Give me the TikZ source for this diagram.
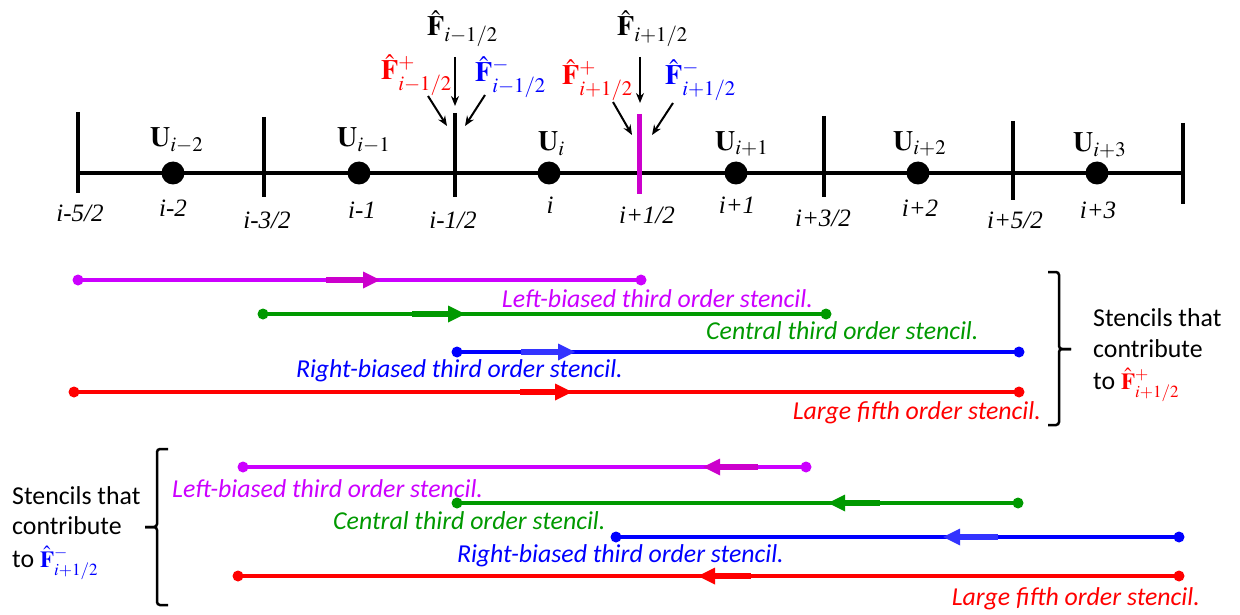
\documentclass[tikz,border=0pt]{standalone}
\usepackage{mathptmx}
\usepackage[no-math]{fontspec}
\setmainfont{Liberation Serif}
\newfontfamily\calibrifont{Carlito}
\usetikzlibrary{arrows.meta}
\definecolor{magline}{RGB}{204,0,255}
\definecolor{magdark}{RGB}{204,0,204}
\definecolor{grn}{RGB}{0,153,0}
\definecolor{blu}{RGB}{0,0,255}
\definecolor{bluarrow}{RGB}{51,51,255}
\definecolor{rd}{RGB}{255,0,0}
\tikzset{
  axisline/.style={line width=4pt, line cap=butt},
  tick/.style={line width=4pt},
  celldot/.style={fill=black},
  ulabel/.style={anchor=base west, inner sep=0pt, font=\fontsize{28}{31}\selectfont},
  flabel/.style={anchor=base west, inner sep=0pt, font=\fontsize{28}{31}\selectfont},
  ilabel/.style={anchor=base, inner sep=0pt, font=\fontsize{25}{28}\selectfont\itshape},
  farrow/.style={line width=2pt, -{Stealth[length=10pt,width=8pt]}},
  stline/.style={line width=3.5pt},
  sttext/.style={inner sep=0pt, font=\fontsize{25.8}{28}\selectfont\calibrifont\itshape},
  bracetext/.style={inner sep=0pt, anchor=base west, font=\fontsize{25.8}{28}\selectfont\calibrifont},
  bracestyle/.style={line width=2.5pt, rounded corners=3pt},
}
\newcommand\arrR[4]{% colour, y, stub start, head base
  \draw[line width=6pt,#1] (#3,#2) -- (#4,#2);
  \fill[#1] (#4,#2-8.5) -- (#4+17,#2) -- (#4,#2+8.5) -- cycle;}
\newcommand\arrL[4]{% colour, y, stub end, head base
  \draw[line width=6pt,#1] (#3,#2) -- (#4,#2);
  \fill[#1] (#4,#2-8.5) -- (#4-17,#2) -- (#4,#2+8.5) -- cycle;}
\begin{document}
\begin{tikzpicture}[x=1pt,y=-1pt]
\useasboundingbox (0,0) rectangle (1240,615);
% ---------------- axis ----------------
\coordinate (t0) at (78,173);
\coordinate (t6) at (1183,173);
\draw[axisline] (t0) -- (t6);
\draw[tick] (78,112) -- (78,193);
\draw[tick] (264,117) -- (264,197);
\draw[tick] (455,113) -- (455,197);
\draw[line width=5pt, magdark] (639,114) -- (639,194);
\draw[tick] (824,116) -- (824,197);
\draw[tick] (1013,121) -- (1013,200);
\draw[tick] (1183,123) -- (1183,204);
\foreach \x in {173,359,549,736,918,1097}
  \fill[celldot] (\x,173) circle (11.5);
% U labels
\node[ulabel] (u1) at (150,147) {$\mathbf{U}_{i-2}$};
\node[ulabel] (u2) at (337,147) {$\mathbf{U}_{i-1}$};
\node[ulabel] (u3) at (538,151) {$\mathbf{U}_{i}$};
\node[ulabel] (u4) at (715,150) {$\mathbf{U}_{i+1}$};
\node[ulabel] (u5) at (893,150) {$\mathbf{U}_{i+2}$};
\node[ulabel] (u6) at (1073,152) {$\mathbf{U}_{i+3}$};
% index labels
\node[ilabel] (l1) at (80,221.5) {i-5/2};
\node[ilabel] (l2) at (173,216.5) {i-2};
\node[ilabel] (l3) at (267,228.5) {i-3/2};
\node[ilabel] (l4) at (362,218.5) {i-1};
\node[ilabel] (l5) at (453,228.5) {i-1/2};
\node[ilabel] (l6) at (550,213.5) {i};
\node[ilabel] (l7) at (647,223.5) {i+1/2};
\node[ilabel] (l8) at (737,213.5) {i+1};
\node[ilabel] (l9) at (823,226.5) {i+3/2};
\node[ilabel] (l10) at (920,216.5) {i+2};
\node[ilabel] (l11) at (1015,228.5) {i+5/2};
\node[ilabel] (l12) at (1098,218.5) {i+3};
% flux labels
\node[flabel] (fa) at (427,36) {$\hat{\mathbf{F}}_{i-1/2}$};
\node[flabel, text=rd] (fap) at (381,80) {$\hat{\mathbf{F}}^{+}_{i-1/2}$};
\node[flabel, text=blu] (fam) at (475,82) {$\hat{\mathbf{F}}^{-}_{i-1/2}$};
\node[flabel] (fb) at (617,36) {$\hat{\mathbf{F}}_{i+1/2}$};
\node[flabel, text=rd] (fbp) at (562,85) {$\hat{\mathbf{F}}^{+}_{i+1/2}$};
\node[flabel, text=blu] (fbm) at (665,85) {$\hat{\mathbf{F}}^{-}_{i+1/2}$};
% flux arrows
\coordinate (a1s) at (455,57);  \coordinate (a1e) at (455,106);
\coordinate (a2s) at (428,96);  \coordinate (a2e) at (447,126);
\coordinate (a3s) at (485,95);  \coordinate (a3e) at (465,126);
\coordinate (b1s) at (640,57);  \coordinate (b1e) at (640,103);
\coordinate (b2s) at (613,102); \coordinate (b2e) at (632,135);
\coordinate (b3s) at (673,103); \coordinate (b3e) at (652,135);
\draw[farrow] (a1s) -- (a1e);
\draw[farrow] (a2s) -- (a2e);
\draw[farrow] (a3s) -- (a3e);
\draw[farrow] (b1s) -- (b1e);
\draw[farrow] (b2s) -- (b2e);
\draw[farrow] (b3s) -- (b3e);
% ---------------- upper stencils (F+) ----------------
\coordinate (pm1) at (78,280);  \coordinate (pm2) at (641,280);
\coordinate (pg1) at (263,314); \coordinate (pg2) at (826,314);
\coordinate (pb1) at (457,352); \coordinate (pb2) at (1019,352);
\coordinate (pr1) at (74,392);  \coordinate (pr2) at (1019,392);
\draw[stline, magline] (pm1) -- (pm2);
\fill[magline] (pm1) circle (5.5) (pm2) circle (5.5);
\arrR{magdark}{280}{326}{363}
\draw[stline, grn] (pg1) -- (pg2);
\fill[grn] (pg1) circle (5.5) (pg2) circle (5.5);
\arrR{grn}{314}{412}{448}
\draw[stline, blu] (pb1) -- (pb2);
\fill[blu] (pb1) circle (5.5) (pb2) circle (5.5);
\arrR{bluarrow}{352}{521}{558}
\draw[stline, rd] (pr1) -- (pr2);
\fill[rd] (pr1) circle (5.5) (pr2) circle (5.5);
\arrR{rd}{392}{520}{555}
\node[sttext, anchor=base east, text=magline] (tpm) at (813,307) {Left-biased third order stencil.};
\node[sttext, anchor=base west, text=grn] (tpg) at (706,339) {Central third order stencil.};
\node[sttext, anchor=base east, text=blu] (tpb) at (623,377) {Right-biased third order stencil.};
\node[sttext, anchor=base east, text=rd] (tpr) at (1041,419) {Large fifth order stencil.};
% right brace
\draw[bracestyle] (1048,272) -- (1059,272) -- (1059,349) -- (1071,349);
\draw[bracestyle] (1071,349) -- (1059,349) -- (1059,425) -- (1048,425);
\node[bracetext] (sp1) at (1093,326) {Stencils that};
\node[bracetext] (sp2) at (1093,357) {contribute};
\node[bracetext] (sp3) at (1093,389) {to {\fontsize{23}{26}\selectfont\color{rd}$\hat{\mathbf{F}}^{+}_{i+1/2}$}};
% ---------------- lower stencils (F-) ----------------
\coordinate (mm1) at (243,467); \coordinate (mm2) at (806,467);
\coordinate (mg1) at (457,503); \coordinate (mg2) at (1018,503);
\coordinate (mb1) at (616,537); \coordinate (mb2) at (1179,537);
\coordinate (mr1) at (238,576); \coordinate (mr2) at (1179,576);
\draw[stline, magline] (mm1) -- (mm2);
\fill[magline] (mm1) circle (5.5) (mm2) circle (5.5);
\arrL{magdark}{467}{758}{720}
\draw[stline, grn] (mg1) -- (mg2);
\fill[grn] (mg1) circle (5.5) (mg2) circle (5.5);
\arrL{grn}{503}{880}{845}
\draw[stline, blu] (mb1) -- (mb2);
\fill[blu] (mb1) circle (5.5) (mb2) circle (5.5);
\arrL{bluarrow}{537}{998}{960}
\draw[stline, rd] (mr1) -- (mr2);
\fill[rd] (mr1) circle (5.5) (mr2) circle (5.5);
\arrL{rd}{576}{751}{715}
\node[sttext, anchor=base west, text=magline] (tmm) at (172,497) {Left-biased third order stencil.};
\node[sttext, anchor=base west, text=grn] (tmg) at (333,529) {Central third order stencil.};
\node[sttext, anchor=base east, text=blu] (tmb) at (784,562) {Right-biased third order stencil.};
\node[sttext, anchor=base east, text=rd] (tmr) at (1200,605) {Large fifth order stencil.};
% left brace
\draw[bracestyle] (168,449) -- (157,449) -- (157,527) -- (145,527);
\draw[bracestyle] (145,527) -- (157,527) -- (157,605) -- (168,605);
\node[bracetext] (sm1) at (12,504) {Stencils that};
\node[bracetext] (sm2) at (12,534) {contribute};
\node[bracetext] (sm3) at (12,567) {to {\fontsize{23}{26}\selectfont\color{blu}$\hat{\mathbf{F}}^{-}_{i+1/2}$}};
\end{tikzpicture}
\end{document}
